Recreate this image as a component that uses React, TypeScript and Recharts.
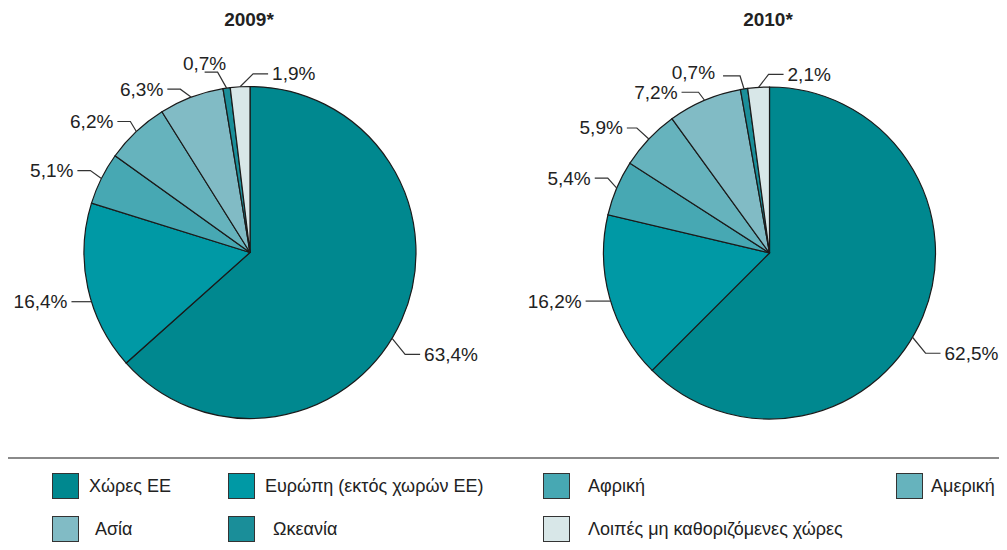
import React from 'react';
import { PieChart, Pie, Cell } from 'recharts';

const REGIONS = ['Χώρες ΕΕ', 'Ευρώπη (εκτός χωρών ΕΕ)', 'Αφρική', 'Αμερική', 'Ασία', 'Ωκεανία', 'Λοιπές μη καθοριζόμενες χώρες'];
const VALUES_2009 = [63.4, 16.4, 5.1, 6.2, 6.3, 0.7, 1.9];
const VALUES_2010 = [62.5, 16.2, 5.4, 5.9, 7.2, 0.7, 2.1];
const LABELS_2009 = ['63,4%', '16,4%', '5,1%', '6,2%', '6,3%', '0,7%', '1,9%'];
const LABELS_2010 = ['62,5%', '16,2%', '5,4%', '5,9%', '7,2%', '0,7%', '2,1%'];
const TITLES = ['2009*', '2010*'];

const COLORS = ['#00888f', '#0099a5', '#47a8b3', '#66b3bd', '#81bbc5', '#1a8e99', '#d8e7e8'];
const FONT = '"Liberation Sans", Arial, sans-serif';

const data2009 = REGIONS.map((name, i) => ({ name, value: VALUES_2009[i], label: LABELS_2009[i] }));
const data2010 = REGIONS.map((name, i) => ({ name, value: VALUES_2010[i], label: LABELS_2010[i] }));

// leader line tweaks per slice: angle shift of start, elbow offset, horizontal run, text offset
type LeaderCfg = { dAng: number; ex: number; ey: number; h: number; tdx?: number; tdy?: number; anchor?: string };
const LEADERS_2009: LeaderCfg[] = [
  { dAng: -7, ex: 13, ey: 16, h: 15 },
  { dAng: 5, ex: 0, ey: 0, h: -20 },
  { dAng: 0, ex: -11, ey: -8, h: -13 },
  { dAng: 0, ex: -6, ey: -10, h: -13 },
  { dAng: 0, ex: -11, ey: -8, h: -13 },
  { dAng: 0, ex: -9, ey: -16, h: -13, tdx: 0, tdy: -9, anchor: 'middle' },
  { dAng: 0, ex: 13, ey: -13, h: 15 },
];
const LEADERS_2010: LeaderCfg[] = [
  { dAng: -8, ex: 13, ey: 16, h: 15 },
  { dAng: 1, ex: 0, ey: 0, h: -25 },
  { dAng: 0, ex: -9, ey: -10, h: -13 },
  { dAng: 0, ex: -12, ey: -11, h: -10 },
  { dAng: 0, ex: -6, ey: -8, h: -17 },
  { dAng: 0, ex: -4, ey: -13, h: -17, tdx: -4, tdy: -3 },
  { dAng: 0, ex: 10, ey: -13, h: 15 },
];

const RAD = Math.PI / 180;

const makeLabel = (cfgs: LeaderCfg[]) => (props: any) => {
  const { cx, cy, midAngle, outerRadius, index, payload } = props;
  const c = cfgs[index];
  const a = (midAngle + c.dAng) * RAD;
  const sx = cx + outerRadius * Math.cos(-a);
  const sy = cy + outerRadius * Math.sin(-a);
  const mx = sx + c.ex;
  const my = sy + c.ey;
  const endX = mx + c.h;
  const dir = c.h >= 0 ? 1 : -1;
  const anchor = c.anchor || (dir > 0 ? 'start' : 'end');
  const tx = c.anchor === 'middle' ? endX + (c.tdx || 0) : endX + dir * 4 + (c.tdx || 0);
  const ty = my + (c.tdy || 0);
  return (
    <g>
      <polyline points={`${sx},${sy} ${mx},${my} ${endX},${my}`} fill="none" stroke="#333" strokeWidth={1.2} />
      <text x={tx} y={ty} textAnchor={anchor} dominantBaseline="central" fontSize={19} fill="#222" fontFamily={FONT}>
        {payload.label}
      </text>
    </g>
  );
};

// legend slots (swatch x, text x, row)
const LEGEND_SLOTS = [
  { sx: 52, tx: 89, row: 0 },
  { sx: 228, tx: 265, row: 0 },
  { sx: 543, tx: 588, row: 0 },
  { sx: 896, tx: 931, row: 0 },
  { sx: 52, tx: 95, row: 1 },
  { sx: 228, tx: 273, row: 1 },
  { sx: 543, tx: 588, row: 1 },
];

const ChartLegend = () => (
  <div style={{ position: 'absolute', left: 2, top: 457, width: 1012, height: 100, borderTop: '2px solid #8a8a8a', borderLeft: '2px solid #8a8a8a', boxSizing: 'border-box' }}>
    {REGIONS.map((name, i) => {
      const s = LEGEND_SLOTS[i];
      const top = s.row === 0 ? 14 : 57;
      return (
        <React.Fragment key={name}>
          <div style={{ position: 'absolute', left: s.sx - 4, top, width: 27, height: 26, background: COLORS[i], border: '1.5px solid #333', boxSizing: 'border-box' }} />
          <div style={{ position: 'absolute', left: s.tx - 4, top: top + 2, height: 22, lineHeight: '22px', fontSize: 18, color: '#222', fontFamily: FONT, whiteSpace: 'nowrap' }}>
            {name}
          </div>
        </React.Fragment>
      );
    })}
  </div>
);

export default function App() {
  return (
    <div style={{ position: 'relative', width: 1007, height: 550, margin: -8, overflow: 'hidden', background: '#fff' }}>
      <PieChart width={1007} height={550} margin={{ top: 0, right: 0, bottom: 0, left: 0 }}>
        <Pie
          data={data2009}
          dataKey="value"
          cx={250}
          cy={252.5}
          outerRadius={166}
          startAngle={90}
          endAngle={-270}
          stroke="#1a1a1a"
          strokeWidth={1.2}
          label={makeLabel(LEADERS_2009)}
          labelLine={false}
          isAnimationActive={false}
        >
          {data2009.map((d, i) => <Cell key={d.name} fill={COLORS[i]} />)}
        </Pie>
        <Pie
          data={data2010}
          dataKey="value"
          cx={769.5}
          cy={253}
          outerRadius={166}
          startAngle={90}
          endAngle={-270}
          stroke="#1a1a1a"
          strokeWidth={1.2}
          label={makeLabel(LEADERS_2010)}
          labelLine={false}
          isAnimationActive={false}
        >
          {data2010.map((d, i) => <Cell key={d.name} fill={COLORS[i]} />)}
        </Pie>
      </PieChart>
      <ChartLegend />
      {TITLES.map((t, i) => (
        <div key={t} style={{ position: 'absolute', left: i === 0 ? 249 : 768, top: 9, transform: 'translateX(-50%)', fontSize: 19, fontWeight: 'bold', color: '#222', fontFamily: FONT }}>
          {t}
        </div>
      ))}
    </div>
  );
}
